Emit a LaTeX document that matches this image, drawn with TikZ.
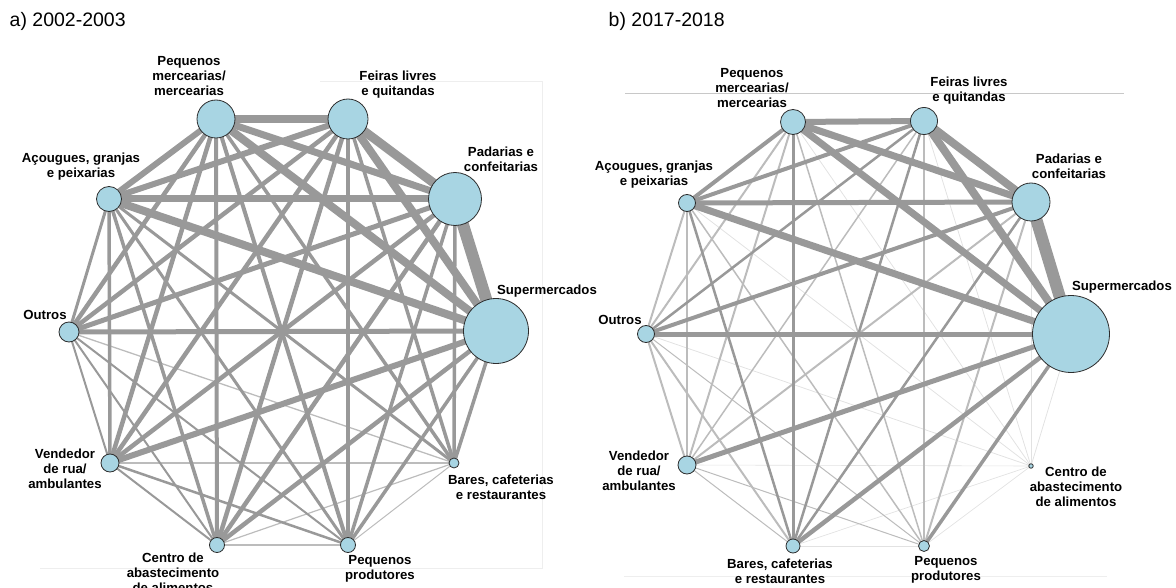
\documentclass[tikz,border=0pt]{standalone}
\usepackage{fontspec}
\setmainfont{Liberation Sans}
\usetikzlibrary{backgrounds}
\definecolor{ecA}{RGB}{153,153,153}
\definecolor{ecB}{RGB}{188,188,188}
\definecolor{ecC}{RGB}{226,226,226}
\definecolor{nodefill}{RGB}{168,213,227}
\definecolor{nodeline}{RGB}{45,45,45}
\definecolor{frameA}{RGB}{238,238,238}
\definecolor{frameB}{RGB}{200,200,200}
\begin{document}
\begin{tikzpicture}[x=1pt,y=-1pt,
  vtx/.style={circle, draw=nodeline, line width=0.8pt, fill=nodefill, inner sep=0pt, minimum size=#1},
  lbl/.style={font=\fontsize{13.2}{15}\selectfont\bfseries, align=center, inner sep=0pt, text=black},
  ttl/.style={font=\fontsize{19.5}{22}\selectfont, anchor=west, inner sep=0pt},
  framefaint/.style={draw=frameA, line width=0.8pt},
  framedark/.style={draw=frameB, line width=0.8pt}]
\useasboundingbox (0,0) rectangle (1176,588);

% titles
\node[ttl] (ta) at (9.5,21) {a) 2002-2003};
\node[ttl] (tb) at (608.5,21) {b) 2017-2018};

% ---------- left graph nodes ----------
\node[vtx=38pt] (lPM) at (216,119) {};
\node[vtx=40pt] (lFL) at (348,119) {};
\node[vtx=53pt] (lPD) at (455,199) {};
\node[vtx=65pt] (lSM) at (496,331) {};
\node[vtx=10pt] (lBR) at (454,463) {};
\node[vtx=15pt] (lPP) at (348,545) {};
\node[vtx=15pt] (lCA) at (217,545) {};
\node[vtx=18pt] (lVR) at (110,463) {};
\node[vtx=20pt] (lOU) at (69,332) {};
\node[vtx=25pt] (lAC) at (109,199) {};

% ---------- right graph nodes ----------
\node[vtx=25pt] (rPM) at (793,122) {};
\node[vtx=27pt] (rFL) at (924,121) {};
\node[vtx=38pt] (rPD) at (1031,202) {};
\node[vtx=77pt] (rSM) at (1071,334) {};
\node[vtx=4.5pt] (rCA) at (1031,466) {};
\node[vtx=11pt] (rPP) at (924,546) {};
\node[vtx=14pt] (rBR) at (793,546) {};
\node[vtx=18pt] (rVR) at (687,465) {};
\node[vtx=17pt] (rOU) at (646,334) {};
\node[vtx=17pt] (rAC) at (687,203) {};

\begin{scope}[on background layer]
% faint frame lines
\draw[framefaint] (320,81) -- (542,81) -- (542,568) -- (40,568);
\draw[framedark] (625,93) -- (1124,93);
\draw[framefaint] (624,576) -- (1107,576);
% very light edges
\foreach \a/\b/\w in {rPM/rCA/0.8, rFL/rCA/0.8, rPD/rCA/0.8, rSM/rCA/0.8, rAC/rCA/0.8,
  rOU/rCA/0.8, rVR/rCA/0.6, rBR/rPP/1, rBR/rCA/0.7, rPP/rCA/0.7}
  {\draw[draw=ecC, line width=\w pt] (\a.center) -- (\b.center);}
% light edges
\foreach \a/\b/\w in {lOU/lBR/1.3, lVR/lBR/2, lCA/lPP/2, lCA/lBR/1.2, lPP/lBR/1,
  rPM/rOU/2, rPM/rVR/2, rPM/rPP/1.5, rFL/rVR/1.5, rFL/rPP/2, rPD/rVR/2, rPD/rPP/2,
  rAC/rOU/2, rAC/rVR/1.5, rAC/rPP/1.5, rOU/rVR/2, rOU/rBR/2, rOU/rPP/1,
  rVR/rBR/1, rVR/rPP/1}
  {\draw[draw=ecB, line width=\w pt] (\a.center) -- (\b.center);}
% main edges
\foreach \a/\b/\w in {
  lPM/lFL/8, lPM/lPD/7, lPM/lSM/8, lPM/lAC/6, lPM/lOU/4.5, lPM/lVR/4.5, lPM/lCA/4,
  lPM/lPP/4, lPM/lBR/3.5,
  lFL/lPD/9, lFL/lSM/8, lFL/lAC/6, lFL/lOU/4.5, lFL/lVR/4.5, lFL/lCA/4.5, lFL/lPP/3.5,
  lFL/lBR/3.5,
  lPD/lSM/12, lPD/lAC/7, lPD/lOU/5, lPD/lVR/4.5, lPD/lCA/4.5, lPD/lPP/3.5, lPD/lBR/3.5,
  lSM/lAC/8, lSM/lOU/5, lSM/lVR/6, lSM/lCA/4.5, lSM/lPP/3.5, lSM/lBR/3.5,
  lAC/lOU/3, lAC/lVR/3.5, lAC/lCA/3.5, lAC/lPP/3, lAC/lBR/3,
  lOU/lVR/2, lOU/lCA/2, lOU/lPP/2, lVR/lCA/2, lVR/lPP/2.5,
  rPM/rFL/6, rPM/rPD/7, rPM/rSM/7, rPM/rAC/4, rPM/rBR/3,
  rFL/rPD/8, rFL/rSM/8, rFL/rAC/4, rFL/rOU/2.5, rFL/rBR/2.5,
  rPD/rSM/12, rPD/rAC/5, rPD/rOU/4, rPD/rBR/2.5,
  rSM/rAC/7, rSM/rOU/5, rSM/rVR/5, rSM/rBR/4.5, rSM/rPP/3.5,
  rAC/rBR/2.5}
  {\draw[draw=ecA, line width=\w pt] (\a.center) -- (\b.center);}
\end{scope}

% ---------- left labels ----------
\node[lbl] (llPM) at (189,76) {Pequenos\\mercearias/\\mercearias};
\node[lbl] (llFL) at (398,85) {Feiras livres\\e quitandas};
\node[lbl] (llPD) at (501,159) {Padarias e\\confeitarias};
\node[lbl] (llAC) at (81,167) {Açougues, granjas\\e peixarias};
\node[lbl] (llSM) at (547,291) {Supermercados};
\node[lbl] (llOU) at (45,315) {Outros};
\node[lbl] (llVR) at (65,469) {Vendedor\\de rua/\\ambulantes};
\node[lbl] (llCA) at (173,573) {Centro de\\abastecimento\\de alimentos};
\node[lbl] (llPP) at (380,569) {Pequenos\\produtores};
\node[lbl] (llBR) at (501,487) {Bares, cafeterias\\e restaurantes};

% ---------- right labels ----------
\node[lbl] (rlPM) at (752,88) {Pequenos\\mercearias/\\mercearias};
\node[lbl] (rlFL) at (969,91) {Feiras livres\\e quitandas};
\node[lbl] (rlPD) at (1069,166) {Padarias e\\confeitarias};
\node[lbl] (rlAC) at (654,175) {Açougues, granjas\\e peixarias};
\node[lbl] (rlSM) at (1122,287) {Supermercados};
\node[lbl] (rlOU) at (620,320) {Outros};
\node[lbl] (rlVR) at (639,471) {Vendedor\\de rua/\\ambulantes};
\node[lbl] (rlCA) at (1076,487) {Centro de\\abastecimento\\de alimentos};
\node[lbl] (rlBR) at (780,571) {Bares, cafeterias\\e restaurantes};
\node[lbl] (rlPP) at (946,570) {Pequenos\\produtores};
\end{tikzpicture}
\end{document}
